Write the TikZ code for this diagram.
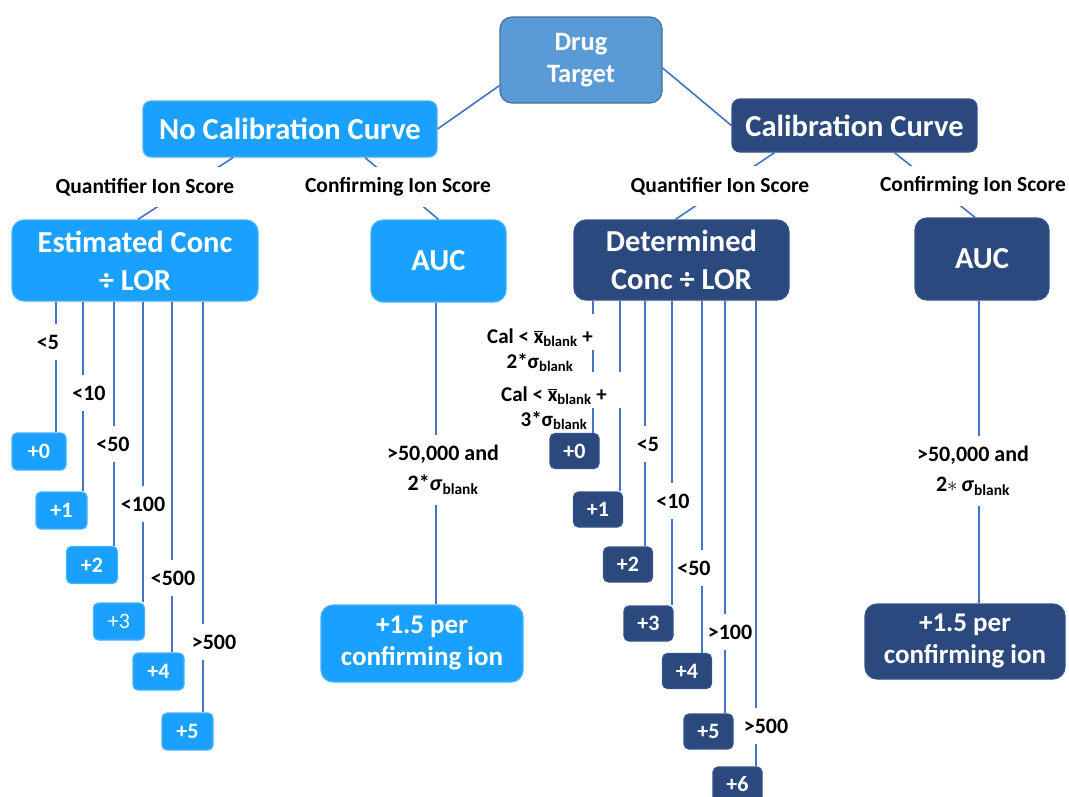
\documentclass[tikz,border=0pt]{standalone}
\usepackage{fontspec}
\setmainfont{Carlito}
\usetikzlibrary{positioning, calc}

\definecolor{drugfill}{RGB}{91,155,213}
\definecolor{drugline}{RGB}{65,113,156}
\definecolor{skyfill}{RGB}{26,160,255}
\definecolor{skyline}{RGB}{72,178,255}
\definecolor{navyfill}{RGB}{44,73,125}
\definecolor{navyline}{RGB}{52,82,140}
\definecolor{linkblue}{RGB}{68,114,196}

\newcommand{\xbar}{$\overline{\mbox{x}}$}

\tikzset{
  box/.style={rounded corners=10pt, inner sep=0pt, align=center, text=white, line width=1.2pt},
  sky/.style={box, fill=skyfill, draw=skyline},
  navy/.style={box, fill=navyfill, draw=navyline},
  bigtext/.style={font=\bfseries\fontsize{30.5}{38}\selectfont},
  leafsky/.style={sky, rounded corners=5pt, minimum width=51, minimum height=37, font=\bfseries\fontsize{22}{24}\selectfont},
  leafnavy/.style={navy, rounded corners=5pt, minimum width=49, minimum height=35, font=\bfseries\fontsize{22}{24}\selectfont},
  link/.style={draw=linkblue, line width=1.6pt},
  branch/.style={fill=white, inner xsep=1pt, inner ysep=0pt, minimum height=40, font=\bfseries\fontsize{21.5}{24}\selectfont},
  cond/.style={fill=white, inner xsep=1pt, inner ysep=0pt, minimum height=36, font=\bfseries\fontsize{22}{24}\selectfont},
  twoline/.style={fill=white, align=center, inner xsep=1pt, inner ysep=10pt, font=\bfseries\fontsize{22}{30}\selectfont},
  callabel/.style={align=center, inner xsep=1pt, inner ysep=14pt, font=\bfseries\fontsize{21}{25}\selectfont}
}

\begin{document}
\begin{tikzpicture}[x=1pt, y=-1pt]
  \useasboundingbox (0,0) rectangle (1069,796);
  \clip (0,0) rectangle (1069,796);
  \fill[white] (0,0) rectangle (1069,796);

  % top of the tree
  \node (drug) [box, fill=drugfill, draw=drugline, rounded corners=12pt, minimum width=162, minimum height=86, font=\bfseries\fontsize{26.5}{32}\selectfont] at (581,60) {Drug\\Target};
  \node (nocal) [sky, rounded corners=8pt, minimum width=294, minimum height=56, bigtext] at (290,129) {No Calibration Curve};
  \node (cal) [navy, rounded corners=8pt, minimum width=245, minimum height=53, bigtext] at (854.5,125.5) {Calibration Curve};

  % second level
  \node (est) [sky, rounded corners=12pt, minimum width=246, minimum height=81, bigtext] at (135,260.5) {Estimated Conc\\÷ LOR};
  \node (aucL) [sky, rounded corners=12pt, minimum width=135, minimum height=82, bigtext] at (438.5,261) {AUC};
  \node (det) [navy, rounded corners=12pt, minimum width=215, minimum height=80, bigtext] at (681.5,260) {Determined\\Conc ÷ LOR};
  \node (aucR) [navy, rounded corners=12pt, minimum width=134, minimum height=82, bigtext] at (982,259) {AUC};

  % scores, no calibration curve
  \node (p0) [leafsky, minimum width=54] at (39,451.5) {+0};
  \node (p1) [leafsky] at (61.5,510.5) {+1};
  \node (p2) [leafsky] at (92,565) {+2};
  \node (p3) [leafsky, font=\fontsize{22}{24}\selectfont] at (119,621.5) {+3};
  \node (p4) [leafsky] at (158.5,671.5) {+4};
  \node (p5) [leafsky] at (187.5,731.5) {+5};
  \node (perL) [sky, rounded corners=12pt, minimum width=202, minimum height=77, font=\bfseries\fontsize{27}{32}\selectfont] at (422,643.5) {+1.5 per\\confirming ion};

  % scores, calibration curve
  \node (q0) [leafnavy] at (574.5,451) {+0};
  \node (q1) [leafnavy] at (598,509.5) {+1};
  \node (q2) [leafnavy] at (628,564.5) {+2};
  \node (q3) [leafnavy] at (648.5,623.5) {+3};
  \node (q4) [leafnavy] at (687,671) {+4};
  \node (q5) [leafnavy] at (708.5,731.5) {+5};
  \node (q6) [leafnavy] at (737.5,784.5) {+6};
  \node (perR) [navy, rounded corners=12pt, minimum width=200, minimum height=75, font=\bfseries\fontsize{27}{32}\selectfont] at (965,641.5) {+1.5 per\\confirming ion};

  \node (cal1) [callabel] at (540,350) {Cal < \xbar\textsubscript{blank} +\\2*σ\textsubscript{blank}};
  \node (cal2) [callabel] at (554,408) {Cal < \xbar\textsubscript{blank} +\\3*σ\textsubscript{blank}};

  % connectors
  \draw [link] ($(drug.south west)+(0,-18)$) -- (nocal.east);
  \draw [link] ($(drug.east)+(0,8)$) -- (cal.west);
  \draw [link] ($(nocal.south)+(-57,0)$) -- ($(est.north)+(3,0)$);
  \draw [link] ($(nocal.south)+(75,0)$) -- (aucL.north);
  \draw [link] ($(cal.south)+(-80,0)$) -- ($(det.north)+(-6,0)$);
  \draw [link] ($(cal.south)+(40,0)$) -- ($(aucR.north)+(-7,0)$);

  \draw [link] (est.south -| 56,0) -- (p0.north -| 56,0);
  \draw [link] (est.south -| 83,0) -- (p1.north -| 83,0);
  \draw [link] (est.south -| 114,0) -- (p2.north -| 114,0);
  \draw [link] (est.south -| 143,0) -- (p3.north -| 143,0);
  \draw [link] (est.south -| 172,0) -- (p4.north -| 172,0);
  \draw [link] (est.south -| 203,0) -- (p5.north -| 203,0);
  \draw [link] (aucL.south -| 436,0) -- (perL.north -| 436,0);

  \draw [link] (det.south -| 593,0) -- (cal1.north -| 593,0) (cal1.east -| 593,0) -- (cal2.north -| 593,0) (cal2.east -| 593,0) -- (q0.north -| 593,0);
  \draw [link] (det.south -| 620,0) -- (cal2.north -| 620,0) (cal2.east -| 620,0) -- (q1.north -| 620,0);
  \draw [link] (det.south -| 645,0) -- (q2.north -| 645,0);
  \draw [link] (det.south -| 672,0) -- (q3.north -| 672,0);
  \draw [link] (det.south -| 702,0) -- (q4.north -| 702,0);
  \draw [link] (det.south -| 725,0) -- (q5.north -| 725,0);
  \draw [link] (det.south -| 756,0) -- (q6.north -| 756,0);
  \draw [link] (aucR.south -| 979,0) -- (perR.north -| 979,0);

  % labels on the connectors
  \node (qsL) [branch] at (145,187) {Quantifier Ion Score};
  \node (csL) [branch] at (398,187) {Confirming Ion Score};
  \node (qsR) [branch] at (720,186) {Quantifier Ion Score};
  \node (csR) [branch] at (973,186) {Confirming Ion Score};

  \node (e0) [cond] at (48,342) {<5};
  \node (e1) [cond] at (89,393) {<10};
  \node (e2) [cond] at (113,444) {<50};
  \node (e3) [cond] at (143,504) {<100};
  \node (e4) [cond] at (173,578) {<500};
  \node (e5) [cond] at (214,642) {>500};
  \node (aL) [twoline] at (443,470) {>50,000 and\\2*\textit{σ}\textsubscript{blank}};

  \node (d2) [cond] at (648,444) {<5};
  \node (d3) [cond] at (673,501) {<10};
  \node (d4) [cond] at (694,568) {<50};
  \node (d5) [cond] at (730,632) {>100};
  \node (d6) [cond] at (766,726) {>500};
  \node (aR) [twoline] at (973,471) {>50,000 and\\2$\ast$\,\textit{σ}\textsubscript{blank}};
\end{tikzpicture}
\end{document}
